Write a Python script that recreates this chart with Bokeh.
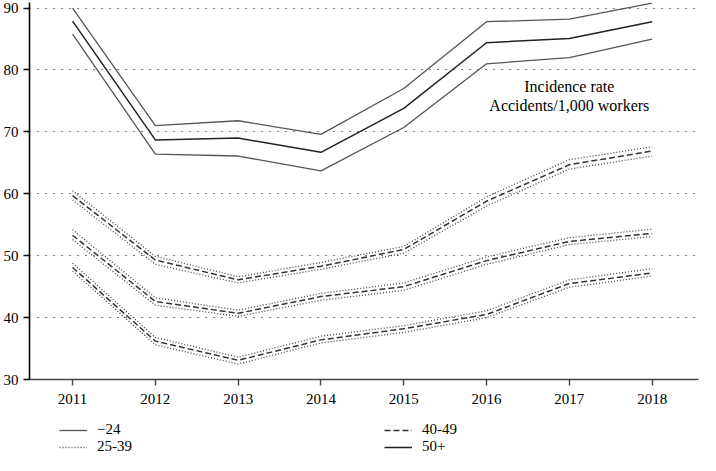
from bokeh.plotting import figure
from bokeh.models import Legend, LegendItem, FixedTicker, Range1d, Label
from bokeh.layouts import column
from bokeh.embed import file_html
from bokeh.resources import INLINE

years = [2011, 2012, 2013, 2014, 2015, 2016, 2017, 2018]
y_ticks = [30, 40, 50, 60, 70, 80, 90]

# top group (solid)
top_mean = [87.9, 68.7, 69.0, 66.7, 73.8, 84.4, 85.1, 87.8]
top_upper = [90.0, 71.0, 71.8, 69.6, 77.0, 87.8, 88.2, 90.8]
top_lower = [85.8, 66.4, 66.1, 63.7, 70.7, 81.0, 82.0, 85.0]

# upper dashed group
g1_mean = [59.7, 49.3, 46.1, 48.3, 51.0, 58.8, 64.7, 66.9]
g1_upper = [60.5, 49.9, 46.6, 48.9, 51.5, 59.5, 65.5, 67.6]
g1_lower = [59.0, 48.6, 45.6, 47.8, 50.4, 58.0, 64.0, 66.1]

# middle dashed group
g2_mean = [53.3, 42.6, 40.7, 43.4, 45.0, 49.2, 52.3, 53.6]
g2_upper = [54.2, 43.2, 41.2, 43.9, 45.6, 49.8, 52.9, 54.3]
g2_lower = [52.6, 42.0, 40.2, 42.8, 44.4, 48.6, 51.8, 53.1]

# lower dashed group
g3_mean = [48.1, 36.2, 33.1, 36.4, 38.2, 40.5, 45.5, 47.2]
g3_upper = [48.8, 36.8, 33.6, 37.0, 38.7, 41.1, 46.1, 47.9]
g3_lower = [47.5, 35.6, 32.5, 35.9, 37.6, 40.0, 44.9, 46.7]

legend_labels = ["\u221224", "25-39", "40-49", "50+"]

FONT = "Liberation Serif"

SOLID_BAND = dict(line_color="#555555", line_width=1.3)
SOLID_MEAN = dict(line_color="#222222", line_width=1.5)
DOT_BAND = dict(line_color="#444444", line_width=1.3, line_dash="1 2")
DASH_MEAN = dict(line_color="#333333", line_width=1.5, line_dash="6 3")

p = figure(width=700, height=406, output_backend="svg", toolbar_location=None,
           x_range=Range1d(2010.48, 2018.56), y_range=Range1d(30, 90.9),
           min_border_left=0, min_border_top=2, min_border_right=2, min_border_bottom=0)
p.outline_line_color = None
p.xgrid.visible = False
p.ygrid.ticker = FixedTicker(ticks=y_ticks)
p.ygrid.grid_line_color = "black"
p.ygrid.grid_line_dash = "1 7"
p.ygrid.grid_line_width = 1.2

p.xaxis.ticker = FixedTicker(ticks=years)
p.yaxis.ticker = FixedTicker(ticks=y_ticks)
for ax in (p.xaxis[0], p.yaxis[0]):
    ax.major_label_text_font = FONT
    ax.major_label_text_font_size = "15px"
    ax.major_label_text_color = "black"
    ax.minor_tick_line_color = None
    ax.major_tick_in = 0
    ax.major_tick_out = 6
    ax.axis_line_width = 1.6
    ax.major_tick_line_width = 1.4
p.yaxis.axis_line_color = "black"
p.yaxis.major_tick_line_color = "black"
p.xaxis.axis_line_color = "#444444"
p.xaxis.major_tick_line_color = "#444444"
p.xaxis.major_label_standoff = 8

p.line(years, top_upper, **SOLID_BAND)
p.line(years, top_lower, **SOLID_BAND)
p.line(years, top_mean, **SOLID_MEAN)

for m, u, l in [(g1_mean, g1_upper, g1_lower), (g2_mean, g2_upper, g2_lower), (g3_mean, g3_upper, g3_lower)]:
    p.line(years, u, **DOT_BAND)
    p.line(years, l, **DOT_BAND)
    p.line(years, m, **DASH_MEAN)

p.add_layout(Label(x=2017, y=77.3, text="Incidence rate", text_align="center",
                   text_baseline="middle", text_font=FONT, text_font_size="16px", text_color="black"))
p.add_layout(Label(x=2017, y=74.3, text="Accidents/1,000 workers", text_align="center",
                   text_baseline="middle", text_font=FONT, text_font_size="16px", text_color="black"))

# legend strip below the chart (its renderers lie outside this strip's ranges)
pl = figure(width=700, height=49, output_backend="svg", toolbar_location=None,
            x_range=Range1d(0, 1), y_range=Range1d(0, 1),
            min_border_left=0, min_border_top=0, min_border_right=0, min_border_bottom=0)
pl.axis.visible = False
pl.grid.visible = False
pl.outline_line_color = None
styles = [SOLID_BAND, DOT_BAND, DASH_MEAN, SOLID_MEAN]
series = [top_upper, g1_upper, g1_mean, top_mean]
rends = [pl.line(years, s, **st) for s, st in zip(series, styles)]
items = [LegendItem(label=lab, renderers=[r]) for lab, r in zip(legend_labels, rends)]
leg1 = Legend(items=items[:2], orientation="vertical", location=(30, 0))
leg2 = Legend(items=items[2:], orientation="vertical", location=(355, 0))
for legend in (leg1, leg2):
    legend.border_line_color = None
    legend.background_fill_alpha = 0
    legend.label_text_font = FONT
    legend.label_text_font_size = "15px"
    legend.label_text_color = "black"
    legend.glyph_width = 28
    legend.glyph_height = 14
    legend.label_height = 14
    legend.label_standoff = 10
    legend.spacing = 0
    legend.padding = 0
    legend.margin = 0
    legend.label_text_line_height = 1.0
    pl.add_layout(legend)

layout = column(p, pl, spacing=0)
open("out.html", "w").write(file_html(layout, INLINE))
